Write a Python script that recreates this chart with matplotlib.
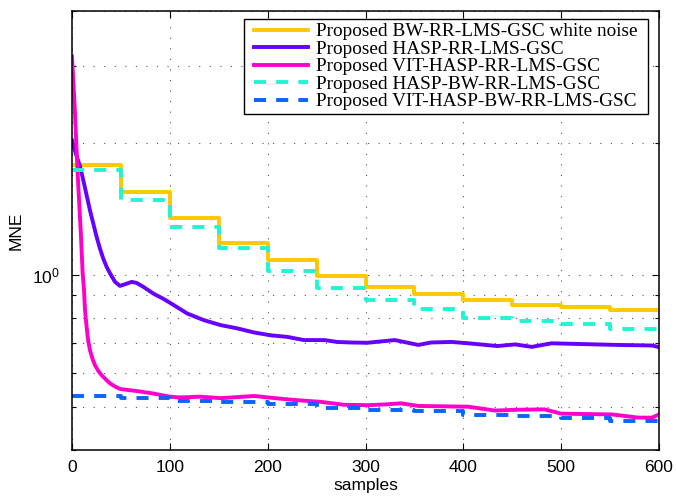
import numpy as np
import matplotlib
matplotlib.use("Agg")
import matplotlib.pyplot as plt
from matplotlib.path import Path
from matplotlib.ticker import FixedLocator, NullFormatter, FixedFormatter

# ---- data ----
step_edges = [0, 50, 100, 150, 200, 250, 300, 350, 400, 450, 500, 550, 600]
bw_white = [1.785, 1.546, 1.349, 1.187, 1.086, 0.996, 0.941, 0.907, 0.879, 0.855, 0.845, 0.833]
hasp_bw = [1.738, 1.488, 1.285, 1.152, 1.023, 0.934, 0.877, 0.839, 0.800, 0.785, 0.774, 0.754]
vit_hasp_bw = [0.532, 0.525, 0.518, 0.515, 0.508, 0.499, 0.494, 0.491, 0.481, 0.478, 0.474, 0.466]

hasp_x = [0, 2.5, 5, 8, 11.6, 15, 18.4, 21.8, 25.2, 28.6, 32, 35.5, 39, 44, 49, 54, 61, 66, 73,
          83, 93, 103, 118, 135, 152, 169, 186, 203, 220, 237, 258, 271, 285, 302, 330, 354,
          367, 388, 405, 435, 453, 470, 490, 524, 558, 593, 600]
hasp_y = [2.03, 1.94, 1.86, 1.778, 1.644, 1.52, 1.405, 1.311, 1.222, 1.15, 1.091, 1.044, 1.009,
          0.966, 0.946, 0.954, 0.966, 0.961, 0.941, 0.909, 0.885, 0.858, 0.818, 0.79, 0.77,
          0.757, 0.741, 0.73, 0.724, 0.712, 0.712, 0.705, 0.703, 0.702, 0.712, 0.694, 0.703,
          0.705, 0.70, 0.69, 0.696, 0.687, 0.70, 0.697, 0.694, 0.692, 0.686]

vit_x = [0, 3, 5.8, 9, 10.9, 12.3, 13.3, 15, 16.5, 18.4, 21, 23.5, 27, 30.3, 35, 39, 44, 49, 57,
         66, 83, 100, 110, 131, 152, 170, 186, 200, 227, 254, 278, 302, 320, 336, 354, 380, 405,
         432, 455, 483, 500, 525, 552, 579, 593, 600]
vit_y = [3.15, 2.35, 1.70, 1.25, 1.01, 0.925, 0.833, 0.76, 0.71, 0.675, 0.645, 0.624, 0.605,
         0.592, 0.578, 0.567, 0.558, 0.551, 0.548, 0.545, 0.538, 0.529, 0.527, 0.529, 0.525,
         0.528, 0.531, 0.527, 0.52, 0.515, 0.507, 0.506, 0.508, 0.511, 0.504, 0.503, 0.502,
         0.492, 0.494, 0.495, 0.484, 0.483, 0.482, 0.474, 0.474, 0.482]

labels = ["Proposed BW-RR-LMS-GSC white noise",
          "Proposed HASP-RR-LMS-GSC",
          "Proposed VIT-HASP-RR-LMS-GSC",
          "Proposed HASP-BW-RR-LMS-GSC",
          "Proposed VIT-HASP-BW-RR-LMS-GSC"]
colors = ["#FFC800", "#6600FF", "#FF00CC", "#1EF5D2", "#0A64FF"]

xticks = [0, 100, 200, 300, 400, 500, 600]

# ---- style ----
plt.rcParams['font.family'] = ['Liberation Sans', 'DejaVu Sans']
plt.rcParams['mathtext.fontset'] = 'custom'
plt.rcParams['mathtext.rm'] = 'Liberation Sans'
plt.rcParams['mathtext.it'] = 'Liberation Sans'

fig = plt.figure(figsize=(6.76, 4.98), dpi=100)
ax = fig.add_axes([72/676, 1-450/498, (659-72)/676, (450-11)/498])

lw = 2.8
dash = (3.1, 2.6)
ax.plot(step_edges, bw_white + [bw_white[-1]], drawstyle='steps-post', color=colors[0], lw=lw, label=labels[0])
ax.plot(hasp_x, hasp_y, color=colors[1], lw=lw, label=labels[1])
ax.plot(vit_x, vit_y, color=colors[2], lw=lw, label=labels[2])
ax.plot(step_edges, hasp_bw + [hasp_bw[-1]], drawstyle='steps-post', color=colors[3], lw=lw,
        dashes=dash, label=labels[3])
ax.plot(step_edges, vit_hasp_bw + [vit_hasp_bw[-1]], drawstyle='steps-post', color=colors[4], lw=lw,
        dashes=dash, label=labels[4])

ax.set_yscale('log')
ax.set_xlim(0, 600)
ax.set_ylim(0.4, 4)
ax.set_xticks(xticks)
ax.set_xticklabels([str(t) for t in xticks])
ax.yaxis.set_major_locator(FixedLocator([1.0]))
ax.yaxis.set_major_formatter(FixedFormatter([r'$10^0$']))
ax.yaxis.set_minor_locator(FixedLocator([0.4, 0.5, 0.6, 0.7, 0.8, 0.9, 2, 3, 4]))
ax.yaxis.set_minor_formatter(NullFormatter())

ax.tick_params(which='both', direction='in', top=True, right=True, labelsize=12.5, width=0.8)
ax.tick_params(which='major', length=5)
ax.tick_params(which='minor', length=3)
ax.tick_params(axis='x', pad=7)
ax.tick_params(axis='y', pad=9)

gstyle = dict(color='#555555', lw=0.8, linestyle=(0, (1.0, 8.5)))
ax.grid(True, which='major', axis='both', **gstyle)
ax.grid(True, which='minor', axis='y', **gstyle)

for s in ax.spines.values():
    s.set_linewidth(1.1)

ax.set_xlabel('samples', fontsize=12.5, labelpad=2)
ax.set_ylabel('MNE', fontsize=12.5, labelpad=6)


def hpad_box(x0, y0, width, height, mutation_size):
    p = 0.36 * mutation_size
    return Path([(x0 - p, y0), (x0 + width + p, y0), (x0 + width + p, y0 + height),
                 (x0 - p, y0 + height), (x0 - p, y0)], closed=True)


leg = ax.legend(loc='upper right', bbox_to_anchor=(641/676, 1-19/498), bbox_transform=fig.transFigure,
                borderaxespad=0, fancybox=False, edgecolor='black', framealpha=1,
                prop={'family': ['Liberation Serif'], 'size': 13.9},
                handlelength=2.75, handletextpad=0.42, labelspacing=0.0, borderpad=0.2)
leg.get_frame().set_linewidth(1.0)
leg.get_frame().set_boxstyle(hpad_box)

fig.savefig('out.png', dpi=100)
